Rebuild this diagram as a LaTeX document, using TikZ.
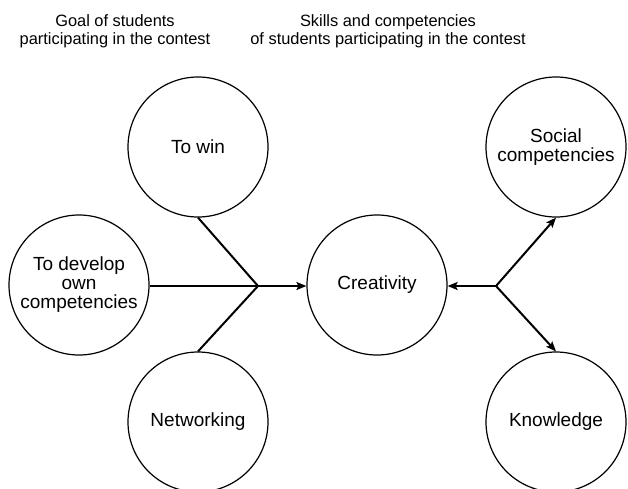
\documentclass[tikz,border=0pt]{standalone}
\usepackage{fontspec}
\setmainfont{Liberation Sans}
\usetikzlibrary{arrows.meta}
\begin{document}
\begin{tikzpicture}[x=1pt,y=-1pt,
    bubble/.style={circle,draw,line width=1.2pt,minimum size=140pt,inner sep=0pt,
      align=center,font=\fontsize{19}{19}\selectfont},
    heading/.style={align=center,font=\fontsize{16.4}{18}\selectfont},
    link/.style={line width=2pt},
    tolink/.style={link,-{Stealth[length=10pt,width=8pt,inset=2pt]}}]
        \clip (0,0) rectangle (628,488);
        \node[heading] (goal) at (115,31) {Goal of students\\participating in the contest};
        \node[heading] (skills) at (388,31) {Skills and competencies\\of students participating in the contest};
        \node[bubble] (win) at (198,147) {To win};
        \node[bubble] (develop) at (79,285) {To develop\\own\\competencies};
        \node[bubble] (networking) at (198,422) {Networking};
        \node[bubble] (creativity) at (377,285) {Creativity};
        \node[bubble] (social) at (556,147) {Social\\competencies};
        \node[bubble] (knowledge) at (556,422) {Knowledge};
        \coordinate (J1) at (258,286);
        \coordinate (J2) at (496,286);
        % goals meet, then point to creativity
        \draw[link] (win.south) -- (J1);
        \draw[link] (networking.north) -- (J1);
        \draw[link] (develop.east |- J1) -- (J1);
        \draw[tolink] (J1) -- (creativity.west |- J1);
        % skills branch out from creativity
        \draw[tolink] (J2) -- (creativity.east |- J2);
        \draw[tolink] (J2) -- (social.south);
        \draw[tolink] (J2) -- (knowledge.north);
    \end{tikzpicture}
\end{document}
